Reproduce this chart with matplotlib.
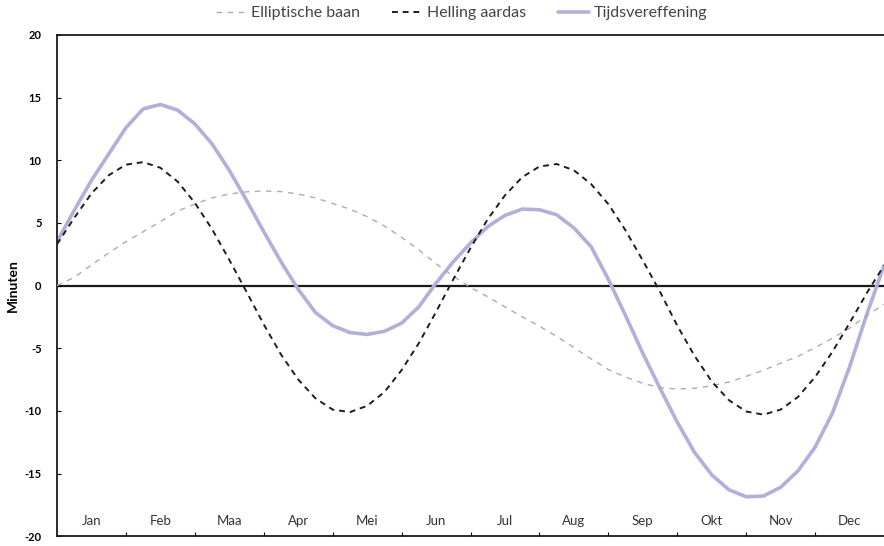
import numpy as np
import matplotlib
matplotlib.use("Agg")
import matplotlib.pyplot as plt

# ---------------------------------------------------------------------------
# Data (minutes, sampled every quarter month, read off the reference)
# ---------------------------------------------------------------------------
months = ["Jan", "Feb", "Maa", "Apr", "Mei", "Jun",
          "Jul", "Aug", "Sep", "Okt", "Nov", "Dec"]

# x positions in months (0 = start of Jan, 12 = end of Dec)
month_pos = np.arange(0, 12.01, 0.25)

elliptische_baan = [
    0.0, 0.65, 1.65, 2.6,       # Jan
    3.5, 4.3, 5.1, 5.95,        # Feb
    6.5, 7.0, 7.3, 7.48,        # Maa
    7.55, 7.5, 7.3, 7.0,        # Apr
    6.55, 6.1, 5.5, 4.75,       # Mei
    3.85, 2.85, 1.75, 0.75,     # Jun
    -0.15, -0.9, -1.7, -2.5,    # Jul
    -3.25, -4.05, -4.95, -5.85, # Aug
    -6.7, -7.3, -7.8, -8.15,    # Sep
    -8.25, -8.2, -8.0, -7.7,    # Okt
    -7.25, -6.75, -6.2, -5.65,  # Nov
    -4.95, -4.2, -3.4, -2.4,    # Dec
    -1.5,
]

helling_aardas = [
    3.3, 5.4, 7.35, 8.8,
    9.65, 9.85, 9.4, 8.3,
    6.6, 4.5, 2.05, -0.5,
    -3.1, -5.5, -7.5, -9.0,
    -9.9, -10.1, -9.6, -8.5,
    -6.75, -4.6, -2.1, 0.5,
    3.0, 5.3, 7.2, 8.65,
    9.5, 9.7, 9.2, 8.1,
    6.5, 4.4, 2.0, -0.5,
    -3.2, -5.6, -7.65, -9.15,
    -10.05, -10.3, -9.9, -8.9,
    -7.3, -5.3, -3.0, -0.6,
    1.6,
]

tijdsvereffening = [
    3.5, 6.0, 8.4, 10.5,
    12.6, 14.1, 14.45, 14.0,
    12.9, 11.3, 9.2, 6.8,
    4.3, 1.9, -0.3, -2.15,
    -3.2, -3.75, -3.9, -3.65,
    -3.0, -1.7, 0.2, 1.9,
    3.4, 4.7, 5.6, 6.1,
    6.05, 5.65, 4.6, 3.1,
    0.5, -2.4, -5.4, -8.2,
    -10.9, -13.3, -15.1, -16.3,
    -16.85, -16.8, -16.1, -14.8,
    -12.9, -10.2, -6.5, -2.3,
    1.6,
]

y_ticks = [-20, -15, -10, -5, 0, 5, 10, 15, 20]

# ---------------------------------------------------------------------------
# Plot
# ---------------------------------------------------------------------------
plt.rcParams["font.family"] = ["Lato", "DejaVu Sans"]

fig = plt.figure(figsize=(8.84, 5.46), dpi=100)
ax = fig.add_axes([0.0645, 0.018, 0.9355, 0.918])

ax.plot(month_pos, elliptische_baan, color="#a3b3a6", linewidth=1.0,
        dashes=(4, 4), label="Elliptische baan", zorder=3)
ax.plot(month_pos, helling_aardas, color="#1e1e1e", linewidth=1.4,
        dashes=(3, 2.5), label="Helling aardas", zorder=3)
ax.plot(month_pos, tijdsvereffening, color="#b0b0da", linewidth=2.6,
        label="Tijdsvereffening", zorder=2, solid_capstyle="round",
        solid_joinstyle="round")

ax.axhline(0, color="#1a1a1a", linewidth=1.6, zorder=1)

ax.set_xlim(0, 12)
ax.set_ylim(-20, 20)

# month boundaries as small ticks, names centred in each month inside the box
ax.set_xticks(np.arange(1, 12))
ax.set_xticklabels([])
ax.set_xticks(np.arange(0.5, 12, 1), minor=True)
ax.set_xticklabels(months, minor=True)
ax.tick_params(axis="x", which="major", direction="in", length=3, width=0.8)
ax.tick_params(axis="x", which="minor", length=0, pad=-15, labelsize=9.5,
               labelcolor="#333333")

ax.set_yticks(y_ticks)
ax.set_yticklabels([str(v) for v in y_ticks])
ax.tick_params(axis="y", direction="in", length=3, width=0.8, pad=11,
               labelsize=8)
for lbl in ax.get_yticklabels():
    lbl.set_fontweight("bold")

ax.set_ylabel("Minuten", fontsize=10, fontweight="bold", labelpad=4)

for side in ["left", "bottom", "top"]:
    ax.spines[side].set_linewidth(1.3)
    ax.spines[side].set_color("#1a1a1a")
ax.spines["right"].set_visible(False)

fig.legend(loc="upper center", bbox_to_anchor=(0.522, 1.015), ncol=3,
           frameon=False, fontsize=11.5, handlelength=1.9, columnspacing=2.0,
           handletextpad=0.3, labelcolor="#444444")

plt.savefig("out.png", dpi=100)
